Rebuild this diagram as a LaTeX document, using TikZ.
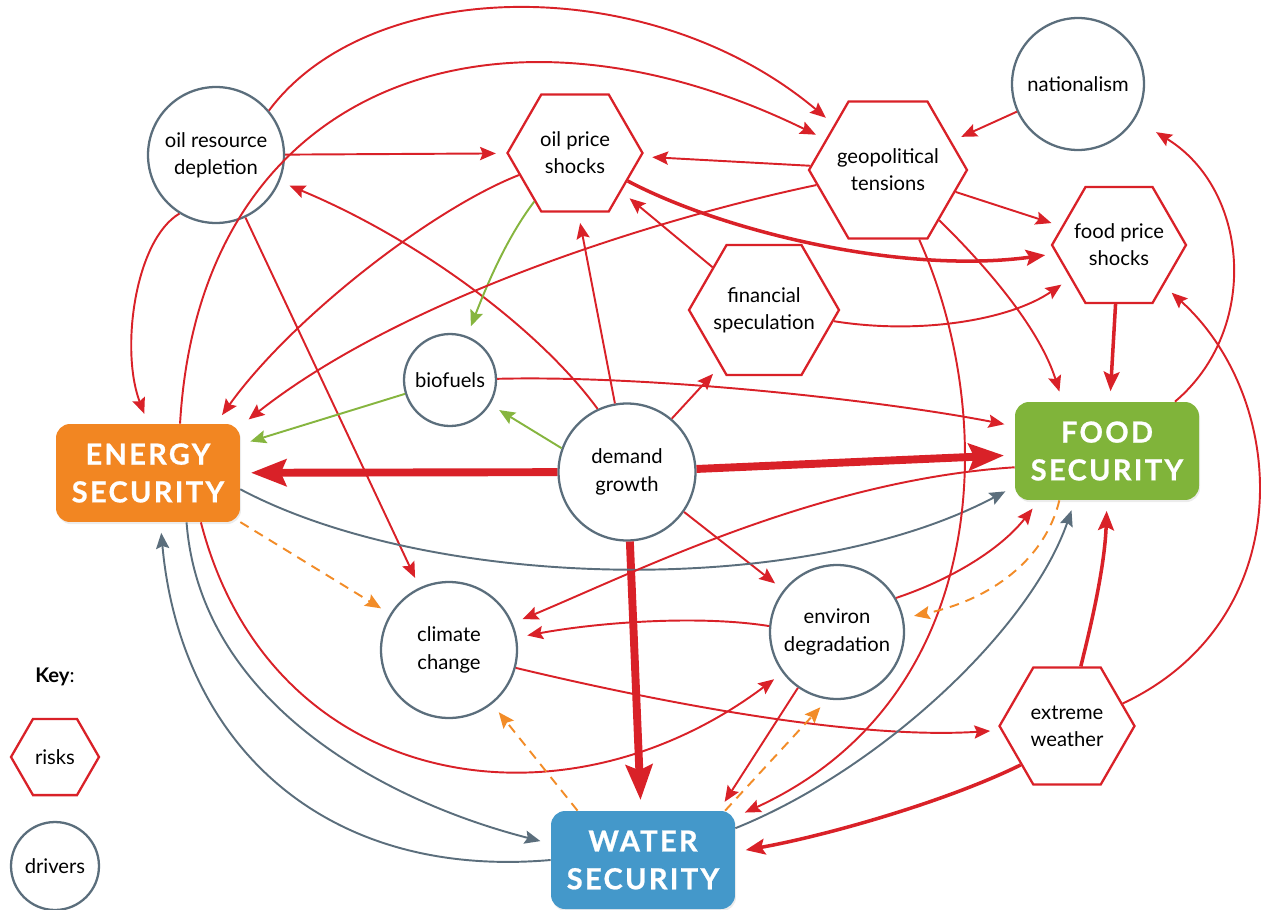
\documentclass[tikz,border=0pt]{standalone}
\usepackage{fontspec}
\setmainfont{Lato}
\newfontfamily\secfamily[LetterSpace=8, BoldFeatures={FakeBold=0.8}]{Lato}
\usetikzlibrary{arrows.meta, positioning, calc, shapes.geometric, shadows}

\definecolor{riskred}{HTML}{D92128}
\definecolor{drivergray}{HTML}{5B6E7C}
\definecolor{bioline}{HTML}{86B53F}
\definecolor{dashorange}{HTML}{F28C28}
\definecolor{energyorange}{HTML}{F28622}
\definecolor{foodgreen}{HTML}{80B43A}
\definecolor{waterblue}{HTML}{4498CA}

\newcommand{\nodefont}{\fontsize{11.5}{15.5}\selectfont}
\newcommand{\secfont}{\secfamily\bfseries\fontsize{16.5}{21.5}\selectfont}

\begin{document}
\begin{tikzpicture}[x=0.02cm, y=-0.02cm,
    driver/.style={circle, draw=drivergray, line width=1.3pt, fill=white, align=center, inner sep=0pt, font=\nodefont},
    risk/.style={regular polygon, regular polygon sides=6, draw=riskred, line width=1.3pt, fill=white, align=center, inner sep=-5pt, font=\nodefont},
    security/.style={rounded corners=0.28cm, minimum width=3.68cm, minimum height=1.96cm, align=center, text=white, font=\secfont,
        drop shadow={opacity=0.15, shadow xshift=0.6pt, shadow yshift=-1.2pt}},
    link/.style={riskred, line width=1.1pt, shorten >=6pt, -{Stealth[length=9pt, width=7.5pt, inset=1.5pt]}},
    strong/.style={link, line width=2pt, -{Stealth[length=11pt, width=9pt, inset=2pt]}},
    major/.style={link, line width=4.5pt, -{Stealth[length=20pt, width=15pt, inset=3pt]}},
    greenlink/.style={link, bioline},
    graylink/.style={link, drivergray},
    effect/.style={link, dashorange, dash pattern=on 5.5pt off 4pt}]
    \useasboundingbox (0,0) rectangle (1280,909);

    % drivers and risks
    \node[driver, minimum size=2.72cm] (ord) at (216,155) {oil resource\\depletion};
    \node[risk, minimum size=2.7cm] (ops) at (575,153) {oil price\\shocks};
    \node[risk, minimum size=3.16cm] (geo) at (888,170) {geopolitical\\tensions};
    \node[driver, minimum size=2.64cm] (nat) at (1078,84) {nationalism};
    \node[risk, minimum size=2.68cm] (fps) at (1119,245) {food price\\shocks};
    \node[risk, minimum size=3.0cm] (fin) at (764,310) {financial\\speculation};
    \node[driver, minimum size=1.84cm] (bio) at (450,380) {biofuels};
    \node[driver, minimum size=2.74cm] (dg) at (627,472) {demand\\growth};
    \node[driver, minimum size=2.72cm] (cc) at (449,650) {climate\\change};
    \node[driver, minimum size=2.68cm] (ed) at (837,632) {environ\\degradation};
    \node[risk, minimum size=2.7cm] (ew) at (1067,726) {extreme\\weather};

    \node[security, fill=energyorange] (es) at (148,473) {ENERGY\\SECURITY};
    \node[security, fill=foodgreen] (fs) at (1107,451) {FOOD\\SECURITY};
    \node[security, fill=waterblue] (ws) at (643,860) {WATER\\SECURITY};

    % key
    \node[font=\nodefont] (key) at (55,677) {\textbf{Key}:};
    \node[risk, minimum size=1.76cm] (keyrisk) at (55,757) {risks};
    \node[driver, minimum size=1.76cm] (keydriver) at (55,866) {drivers};

    % oil resource depletion
    \draw[link] (ord) -- (ops);
    \draw[link] (ord.40) .. controls (370,-25) and (650,-30) .. (geo);
    \draw[link] (ord.-122) .. controls (135,240) and (120,350) .. (es.north);
    \draw[link] (ord) -- (cc);

    % demand growth
    \draw[link] (dg.115) .. controls (540,330) and (420,240) .. (ord);
    \draw[link] (dg.100) -- (ops.-87);
    \draw[link] (dg.50) -- (fin.232);
    \draw[link] (dg.-35) -- (ed);
    \draw[major] (dg) -- (es);
    \draw[major] (dg) -- (fs);
    \draw[major] (dg) -- (ws);
    \draw[greenlink] (dg.160) -- (bio);

    % energy security
    \draw[link] (es.57) .. controls (200,80) and (500,-20) .. (geo);
    \draw[link] (es.-43) .. controls (270,790) and (560,840) .. (ed);
    \draw[graylink] (es.-10) .. controls (430,590) and (800,600) .. (fs.-159);
    \draw[graylink] (es.-52) .. controls (200,700) and (380,800) .. (ws.170);
    \draw[effect] (es.-28) -- (cc);

    % oil price shocks
    \draw[link] (ops) .. controls (430,210) and (290,320) .. (es.36);
    \draw[strong] (ops) .. controls (720,230) and (900,275) .. (fps);
    \draw[greenlink] (ops.-130) .. controls (505,240) and (485,290) .. (bio);

    % geopolitical tensions
    \draw[link] (geo) -- (ops);
    \draw[link] (geo) .. controls (650,220) and (400,300) .. (es.27);
    \draw[link] (geo) -- (fps);
    \draw[link] (geo) .. controls (990,270) and (1040,330) .. (fs.132);
    \draw[link] (geo) .. controls (1000,420) and (990,700) .. (ws.25);
    \draw[link] (nat) -- (geo);

    % food price shocks, speculation, biofuels
    \draw[strong] (fps) -- (fs);
    \draw[link] (fin) -- (ops);
    \draw[link] (fin) .. controls (920,335) and (1010,320) .. (fps);
    \draw[link] (bio) .. controls (650,375) and (880,400) .. (fs.165);
    \draw[greenlink] (bio) -- (es);

    % food security
    \draw[link, shorten >=14pt] (fs.36) .. controls (1260,330) and (1250,190) .. (nat);
    \draw[link] (fs.190) .. controls (820,480) and (640,570) .. (cc);
    \draw[effect] (fs.-134) .. controls (1045,560) and (990,600) .. (ed);

    % environ degradation, climate change
    \draw[link] (ed.30) .. controls (950,580) and (1000,550) .. (fs.-144);
    \draw[link] (ed.175) .. controls (700,615) and (600,622) .. (cc);
    \draw[link] (ed.-125) -- (ws.33);
    \draw[link] (cc.-15) .. controls (650,700) and (850,740) .. (ew);

    % extreme weather
    \draw[strong] (ew.77) .. controls (1095,610) and (1105,560) .. (fs.south);
    \draw[strong] (ew.-140) .. controls (950,800) and (830,835) .. (ws.5);
    \draw[link] (ew.22) .. controls (1300,620) and (1290,400) .. (fps);

    % water security
    \draw[graylink] (ws.19) .. controls (880,770) and (1030,630) .. (fs.-123);
    \draw[graylink] (ws.west) .. controls (320,880) and (180,740) .. (es.-76);
    \draw[effect] (ws.143) -- (cc);
    \draw[effect] (ws.31) -- (ed.-98);
\end{tikzpicture}
\end{document}
